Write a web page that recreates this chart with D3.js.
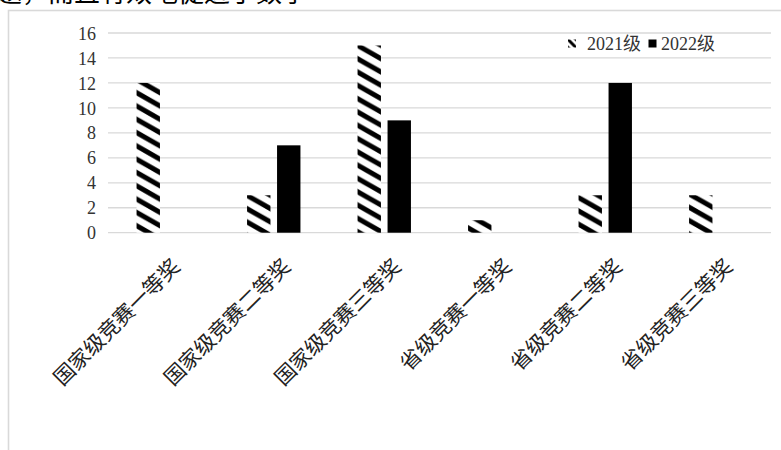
<!DOCTYPE html>
<html>
<head>
<meta charset="utf-8">
<script src="https://cdn.jsdelivr.net/npm/d3@7"></script>
<style>
  html, body { margin: 0; padding: 0; background: #fff; overflow: hidden; }
  svg { display: block; }
</style>
</head>
<body>
<svg id="chart" width="781" height="450"></svg>
<script>
const categories = ["国家级竞赛一等奖", "国家级竞赛二等奖", "国家级竞赛三等奖", "省级竞赛一等奖", "省级竞赛二等奖", "省级竞赛三等奖"];
const seriesNames = ["2021级", "2022级"];
const values2021 = [12, 3, 15, 1, 3, 3];
const values2022 = [0, 7, 9, 0, 12, 0];
const yTicks = [0, 2, 4, 6, 8, 10, 12, 14, 16];
const pageText = "题，而且有效地促进了数学";

const seriesValues = [values2021, values2022];
const svg = d3.select("#chart");
const W = 781, H = 450;

const defs = svg.append("defs");
// hatch pattern for 2021 bars (downward diagonal stripes)
const pw = 23.4, ph = 13.3;
const pat = defs.append("pattern").attr("id", "hatch").attr("patternUnits", "userSpaceOnUse")
  .attr("width", pw).attr("height", ph).attr("x", 137.3).attr("y", 0);
pat.append("rect").attr("width", pw).attr("height", ph).attr("fill", "#fff");
pat.append("path")
  .attr("d", `M${-pw},${-ph}L${2*pw},${2*ph}M${-pw},${-2*ph}L${2*pw},${ph}M${-pw},0L${2*pw},${3*ph}`)
  .attr("stroke", "#000").attr("stroke-width", 5);
const pat2 = defs.append("pattern").attr("id", "hatchSmall").attr("patternUnits", "userSpaceOnUse")
  .attr("width", 8).attr("height", 8).attr("x", 568).attr("y", 39.5);
pat2.append("rect").attr("width", 8).attr("height", 8).attr("fill", "#fff");
pat2.append("path").attr("d", "M-8,-8L16,16M-8,-16L16,8M-8,0L16,24")
  .attr("stroke", "#000").attr("stroke-width", 3);
const fills = ["url(#hatch)", "#000"];

// page text fragment (cut off by the top edge, as in the reference) and chart frame
svg.append("text").attr("x", -4).attr("y", 2).attr("font-family", "'Noto Sans CJK SC'")
  .attr("font-size", 26).attr("fill", "#000").text(pageText);
svg.append("rect").attr("x", 8.5).attr("y", 10.5).attr("width", W + 20).attr("height", H + 20)
  .attr("fill", "none").attr("stroke", "#d9d9d9").attr("stroke-width", 1.6);

const x0 = 108, x1 = 771;
const y = d3.scaleLinear().domain([0, 16]).range([232.7, 33]);
const x = d3.scaleBand().domain(categories).range([x0, x1]).padding(0);
const xs = d3.scaleBand().domain(seriesNames).range([0, x.bandwidth()]).paddingInner(0.22).paddingOuter(0.952);

// gridlines
svg.append("g").selectAll("line").data(yTicks).join("line")
  .attr("x1", x0).attr("x2", x1)
  .attr("y1", d => y(d)).attr("y2", d => y(d))
  .attr("stroke", "#d9d9d9").attr("stroke-width", 1.3);

// y axis labels
const yAxis = d3.axisLeft(y).tickValues(yTicks).tickSize(0).tickPadding(0).tickFormat(d3.format("d"));
const yg = svg.append("g").attr("transform", `translate(96,0)`).call(yAxis);
yg.select(".domain").remove();
yg.selectAll("text").attr("font-family", "'Liberation Serif', 'Times New Roman', serif")
  .attr("font-size", 18).attr("fill", "#333").attr("dy", "0.34em");

// bars
seriesNames.forEach((s, si) => {
  svg.append("g").selectAll("rect").data(categories).join("rect")
    .attr("x", d => x(d) + xs(s))
    .attr("width", xs.bandwidth())
    .attr("y", (d, i) => y(seriesValues[si][i]))
    .attr("height", (d, i) => y(0) - y(seriesValues[si][i]))
    .attr("fill", fills[si]);
});

// x labels
svg.append("g").selectAll("text").data(categories).join("text")
  .attr("transform", d => `translate(${x(d) + x.bandwidth() / 2 + 18},268) rotate(-45)`)
  .attr("text-anchor", "end")
  .attr("font-family", "'Noto Sans CJK SC', sans-serif")
  .attr("font-size", 21).attr("fill", "#222")
  .text(d => d);

// legend
const legX = [568, 648.5];
const legTX = [587, 661];
seriesNames.forEach((s, si) => {
  svg.append("rect").attr("x", legX[si]).attr("y", 39.5).attr("width", 8).attr("height", 8)
    .attr("fill", si === 0 ? "url(#hatchSmall)" : "#000");
  svg.append("text").attr("x", legTX[si]).attr("y", 43.5).attr("dy", "0.35em")
    .attr("font-family", "'Liberation Serif', 'Noto Sans CJK SC', serif")
    .attr("font-size", 18).attr("fill", "#333").text(s);
});
</script>
</body>
</html>
